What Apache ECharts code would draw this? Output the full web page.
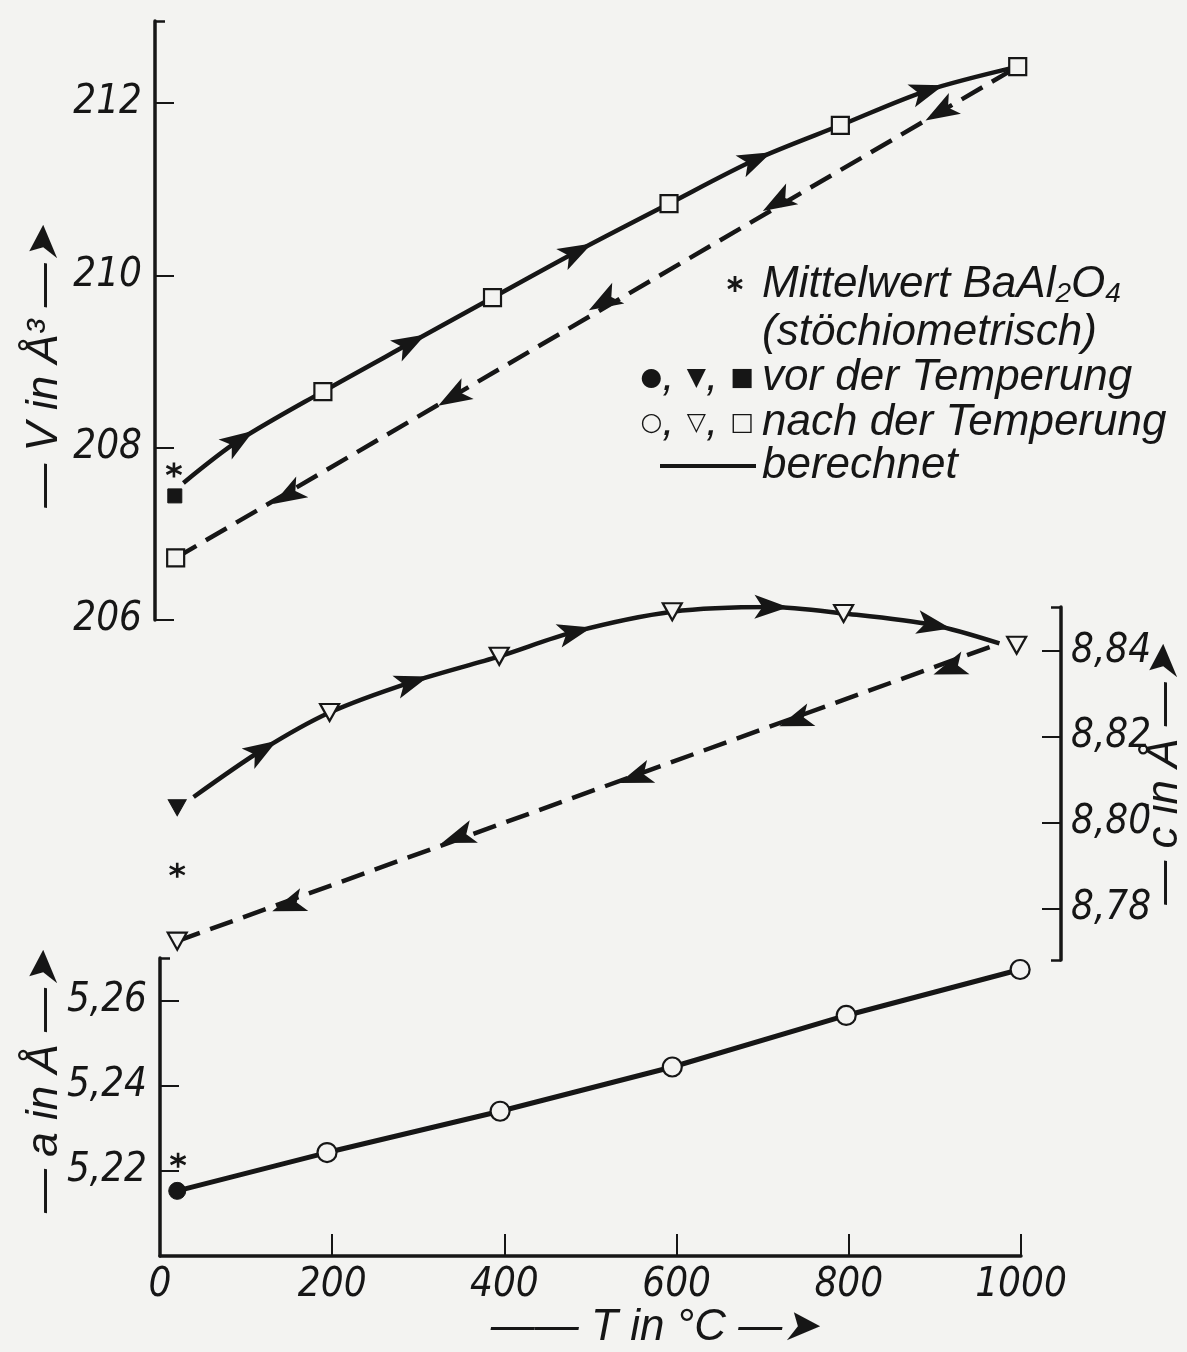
<!DOCTYPE html>
<html>
<head>
<meta charset="utf-8">
<script src="https://cdn.jsdelivr.net/npm/echarts@6/dist/echarts.min.js"></script>
<style>
  html, body { margin: 0; padding: 0; background: #f3f3f1; }
  #chart { width: 1187px; height: 1352px; }
</style>
</head>
<body>
<div id="chart"></div>
<script>
// top panel: V in Å^3
var vHeatEnds = [[33, 207.59], [1002, 212.42]];
var vHeat = [[195, 208.65], [392, 209.74], [597, 210.83], [796, 211.74], [1002, 212.42]];
var vCool = [[24, 206.72], [1002, 212.42]];
var vAfter = [[24, 206.72]];
var vBefore = [[23, 207.44]];
var vMean = [[22, 207.74]];
var vHeatArrows = [[97, 208.08], [296, 209.21], [489, 210.27], [697, 211.34], [896, 212.14]];
var vCoolArrows = [[913, 211.90], [724, 210.85], [522, 209.70], [347, 208.59], [155, 207.45]];

// middle panel: c in Å
var cHeatEnds = [[39, 8.8060], [975, 8.8418]];
var cHeat = [[197, 8.8257], [394, 8.8388], [595, 8.8492], [794, 8.8488]];
var cCool = [[20, 8.7724], [975, 8.8418]];
var cAfter = [[20, 8.7724], [995, 8.8414]];
var cBefore = [[20, 8.8035]];
var cMean = [[20, 8.7889]];
var cHeatArrows = [[118, 8.8169], [292, 8.8328], [481, 8.8445], [709, 8.8503], [898, 8.8461]];
var cCoolArrows = [[918, 8.8360], [739, 8.8239], [553, 8.8107], [347, 8.7967], [150, 8.7808]];

// bottom panel: a in Å
var aLine = [[20, 5.2153], [194, 5.2243], [395, 5.2340], [595, 5.2444], [797, 5.2565], [999, 5.2673]];
var aMean = [[21, 5.2225]];

// axis ticks
var tTicks = [0, 200, 400, 600, 800, 1000];
var vTicks = [206, 208, 210, 212];
var cTicks = [8.78, 8.80, 8.82, 8.84];
var aTicks = [5.22, 5.24, 5.26];

var INK = '#161616';
var BG = '#f3f3f1';
var NUM_FONT = "'Liberation Sans Narrow', 'DejaVu Sans Condensed', 'Liberation Sans', sans-serif";
var TXT_FONT = "'Liberation Sans', Arial, sans-serif";
var ARROW = 'M18,0 L-16,-12 L-8,0 L-16,12 Z';
var STAR = 'path://M0,-10L0,10M-8.66,-5L8.66,5M-8.66,5L8.66,-5';

function comma(v) {
  return v.toFixed(2).replace('.', ',');
}

function byT(a, b) {
  return a[0] - b[0];
}

function yAxisBase(grid, min, max, pos, ticks, fmt, margin) {
  return {
    type: 'value', gridIndex: grid, min: min, max: max, position: pos,
    axisLine: {show: true, onZero: false, lineStyle: {color: INK, width: 3.5}},
    axisTick: {show: true, inside: true, length: 19, customValues: ticks, lineStyle: {color: INK, width: 2}},
    axisLabel: {
      customValues: ticks, margin: margin, color: INK, fontSize: 40, fontStyle: 'italic',
      fontFamily: NUM_FONT, formatter: fmt
    },
    splitLine: {show: false}
  };
}

// short end hooks of the axis lines
function hookAxis(grid, min, max, pos, ticks) {
  return {
    type: 'value', gridIndex: grid, min: min, max: max, position: pos,
    axisLine: {show: false, onZero: false},
    axisTick: {show: true, inside: true, length: 10, customValues: ticks, lineStyle: {color: INK, width: 2.5}},
    axisLabel: {show: false},
    splitLine: {show: false}
  };
}

// arrow heads sitting on a line, pointing along it (dir -1 = towards lower T)
function arrowSeries(pts, line, dir, xi, yi) {
  return {
    type: 'custom', xAxisIndex: xi, yAxisIndex: yi, data: pts, z: 5, clip: false,
    encode: {x: 0, y: 1}, silent: true,
    renderItem: function (params, api) {
      var t = api.value(0);
      var p = api.coord([t, api.value(1)]);
      var prev = line[0], next = line[line.length - 1];
      for (var i = 0; i < line.length; i++) {
        if (line[i][0] < t - 1) prev = line[i];
      }
      for (var j = line.length - 1; j >= 0; j--) {
        if (line[j][0] > t + 1) next = line[j];
      }
      var a = api.coord(prev);
      var b = api.coord(next);
      var ang = Math.atan2(b[1] - a[1], b[0] - a[0]);
      if (dir < 0) ang += Math.PI;
      return {
        type: 'path', x: p[0], y: p[1], rotation: -ang,
        shape: {pathData: ARROW, x: -16, y: -12, width: 34, height: 24},
        style: {fill: INK}
      };
    }
  };
}

function curve(data, xi, yi, smooth, width) {
  return {
    type: 'line', xAxisIndex: xi, yAxisIndex: yi, smooth: smooth, z: 3,
    data: data, symbol: 'none',
    lineStyle: {color: INK, width: width}
  };
}

function dashedLine(data, xi, yi) {
  return {
    type: 'line', xAxisIndex: xi, yAxisIndex: yi, data: data, symbol: 'none', z: 2,
    lineStyle: {color: INK, width: 4.5, type: [24, 11], cap: 'butt'}
  };
}

function marks(data, xi, yi, sym, size, filled) {
  return {
    type: 'scatter', xAxisIndex: xi, yAxisIndex: yi, data: data, z: 6,
    symbol: sym, symbolSize: size, symbolRotate: sym === 'triangle' ? 180 : 0,
    itemStyle: filled ? {color: INK, borderColor: INK, borderWidth: 1, opacity: 1}
                      : {color: BG, borderColor: INK, borderWidth: 2.2, opacity: 1}
  };
}

function starMarks(data, xi, yi) {
  return {
    type: 'scatter', xAxisIndex: xi, yAxisIndex: yi, data: data, z: 6,
    symbol: STAR, symbolSize: 15,
    itemStyle: {color: 'none', borderColor: INK, borderWidth: 2.6, opacity: 1}
  };
}

var vHeatCurve = vHeatEnds.slice(0, 1).concat(vHeat, vHeatArrows).sort(byT);
var cHeatCurve = cHeatEnds.concat(cHeat, cHeatArrows).sort(byT);

var titleStyle = {fontSize: 44, fontStyle: 'italic', fontFamily: TXT_FONT, fill: INK, align: 'center', verticalAlign: 'middle'};
var legendStyle = {fontSize: 44, fontStyle: 'italic', fontFamily: TXT_FONT, fill: INK, align: 'left', verticalAlign: 'middle'};
var glyphRich = {
  g: {fontSize: 25, fontFamily: 'DejaVu Sans', fill: INK},
  n: {fontSize: 44, fontStyle: 'italic', fontFamily: TXT_FONT, fill: INK}
};
var legendStar = {stroke: INK, lineWidth: 2.8};

var option = {
  backgroundColor: BG,
  animation: false,
  grid: [
    {left: 155, width: 869.6, top: 21, bottom: 732},
    {left: 160, width: 901, top: 607, bottom: 392},
    {left: 160, width: 861, top: 958, bottom: 96}
  ],
  xAxis: [
    {type: 'value', gridIndex: 0, min: 0, max: 1010, show: false},
    {type: 'value', gridIndex: 1, min: 0, max: 1046.5, show: false},
    {
      type: 'value', gridIndex: 2, min: 0, max: 1000, interval: 200,
      axisLine: {show: true, onZero: false, lineStyle: {color: INK, width: 3.5}},
      axisTick: {show: true, inside: true, length: 22, customValues: tTicks, lineStyle: {color: INK, width: 2}},
      axisLabel: {
        customValues: tTicks, margin: 10, color: INK, fontSize: 40, fontStyle: 'italic', fontFamily: NUM_FONT,
        formatter: function (v) { return String(v); }
      },
      splitLine: {show: false}
    }
  ],
  yAxis: [
    yAxisBase(0, 206, 212.95, 'left', vTicks, function (v) { return String(v); }, 13),
    yAxisBase(1, 8.768, 8.8503, 'right', cTicks, comma, 10),
    yAxisBase(2, 5.20, 5.27, 'left', aTicks, comma, 13),
    hookAxis(0, 206, 212.95, 'left', [212.95]),
    hookAxis(1, 8.768, 8.8503, 'right', [8.768, 8.8503]),
    hookAxis(2, 5.20, 5.27, 'left', [5.27])
  ],
  series: [
    curve(vHeatCurve, 0, 0, 0.3, 4.5),
    dashedLine(vCool, 0, 0),
    marks(vHeat, 0, 0, 'rect', 17, false),
    marks(vAfter, 0, 0, 'rect', 17, false),
    marks(vBefore, 0, 0, 'rect', 14, true),
    starMarks(vMean, 0, 0),
    arrowSeries(vHeatArrows, vHeatCurve, 1, 0, 0),
    arrowSeries(vCoolArrows, vCool, -1, 0, 0),

    curve(cHeatCurve, 1, 1, 0.3, 4.5),
    dashedLine(cCool, 1, 1),
    marks(cHeat, 1, 1, 'triangle', [19, 17], false),
    marks(cAfter, 1, 1, 'triangle', [19, 17], false),
    marks(cBefore, 1, 1, 'triangle', [18, 16], true),
    starMarks(cMean, 1, 1),
    arrowSeries(cHeatArrows, cHeatCurve, 1, 1, 1),
    arrowSeries(cCoolArrows, cCool, -1, 1, 1),

    curve(aLine, 2, 2, false, 5),
    marks(aLine.slice(1), 2, 2, 'circle', 19, false),
    marks(aLine.slice(0, 1), 2, 2, 'circle', 17, true),
    starMarks(aMean, 2, 2)
  ],
  graphic: [
    {type: 'text', x: 45, y: 367, rotation: Math.PI / 2, style: Object.assign({text: '— V in Å³ —➤'}, titleStyle)},
    {type: 'text', x: 45, y: 1082, rotation: Math.PI / 2, style: Object.assign({text: '— a in Å —➤'}, titleStyle)},
    {type: 'text', x: 1165, y: 775, rotation: Math.PI / 2, style: Object.assign({text: '— c in Å —➤'}, titleStyle)},
    {type: 'text', x: 655, y: 1328, style: Object.assign({text: '—— T in °C —➤'}, titleStyle)},

    {
      type: 'group', x: 735, y: 284,
      children: [
        {type: 'line', shape: {x1: 0, y1: -8, x2: 0, y2: 8}, style: legendStar},
        {type: 'line', shape: {x1: -7, y1: -4, x2: 7, y2: 4}, style: legendStar},
        {type: 'line', shape: {x1: -7, y1: 4, x2: 7, y2: -4}, style: legendStar}
      ]
    },
    {
      type: 'text', x: 762, y: 285,
      style: Object.assign({}, legendStyle, {
        text: '{n|Mittelwert BaAl}{s|2}{n|O}{s|4}',
        rich: {
          n: {fontSize: 44, fontStyle: 'italic', fontFamily: TXT_FONT, fill: INK},
          s: {fontSize: 28, fontStyle: 'italic', fontFamily: TXT_FONT, fill: INK, padding: [18, 0, 0, 0]}
        }
      })
    },
    {type: 'text', x: 762, y: 333, style: Object.assign({text: '(stöchiometrisch)'}, legendStyle)},
    {
      type: 'text', x: 754, y: 378,
      style: {text: '{g|●}{n|, }{g|▼}{n|, }{g|■}', rich: glyphRich, align: 'right', verticalAlign: 'middle'}
    },
    {type: 'text', x: 762, y: 378, style: Object.assign({text: 'vor der Temperung'}, legendStyle)},
    {
      type: 'text', x: 754, y: 423,
      style: {text: '{g|○}{n|, }{g|▽}{n|, }{g|□}', rich: glyphRich, align: 'right', verticalAlign: 'middle'}
    },
    {type: 'text', x: 762, y: 423, style: Object.assign({text: 'nach der Temperung'}, legendStyle)},
    {type: 'line', shape: {x1: 660, y1: 466, x2: 756, y2: 466}, style: {stroke: INK, lineWidth: 4}},
    {type: 'text', x: 762, y: 466, style: Object.assign({text: 'berechnet'}, legendStyle)}
  ]
};

var chart = echarts.init(document.getElementById('chart'));
chart.setOption(option);
</script>
</body>
</html>
